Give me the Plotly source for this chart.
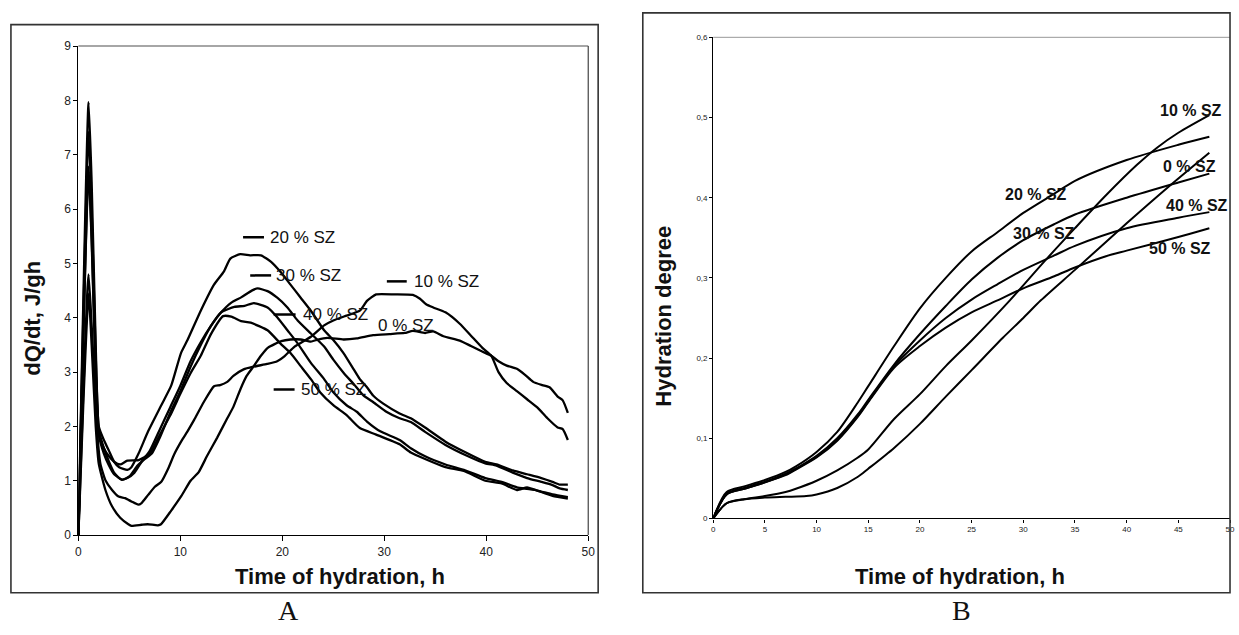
import plotly.graph_objects as go

W, H = 1239, 635

# ---------------- Panel A : heat flow dQ/dt (J/gh) vs time (h) ----------------
a_x_0 = [0, 0.5, 1.0, 1.3, 1.7, 2, 2.65, 3.3, 4.1, 4.9, 5.2, 6.2, 6.8, 7.8, 8.1, 9.1, 10.1, 11, 11.8, 12.6,
         13.6, 14.6, 15.2, 15.9, 16.5, 17.2, 17.9, 18.6, 19.9, 20.8, 21.8, 22.8, 23.5, 24.4, 26, 27.3, 28.9,
         30.5, 32, 32.8, 34, 34.8, 35.8, 37.4, 38.5, 39.6, 40.5, 41.2, 42, 43, 43.8, 44.6, 45.5, 46.2, 47, 47.5, 48]
a_y_0 = [0, 2.5, 4.45, 3.5, 2.0, 1.31, 0.83, 0.53, 0.32, 0.2, 0.17, 0.19, 0.2, 0.18, 0.2, 0.45, 0.72, 1.0, 1.16, 1.45,
         1.79, 2.15, 2.36, 2.69, 2.93, 3.11, 3.3, 3.45, 3.57, 3.6, 3.6, 3.56, 3.6, 3.63, 3.6, 3.62, 3.68,
         3.7, 3.72, 3.76, 3.72, 3.75, 3.66, 3.58, 3.48, 3.38, 3.3, 3.2, 3.12, 3.06, 2.95, 2.82, 2.76, 2.72, 2.55, 2.48, 2.25]

a_x_10 = [0, 1.0, 1.4, 1.84, 2.16, 2.65, 3.3, 3.94, 4.58, 5.2, 5.87, 6.2, 6.84, 7.5, 8.13, 8.8, 9.4, 10.1, 10.7,
          11.35, 12.3, 13.3, 13.9, 14.6, 15.2, 16.2, 17.2, 18.5, 19.5, 20.2, 21.2, 22.8, 24.1, 25, 26.3, 27.6,
          28.3, 29.2, 31, 32.8, 33.5, 34.1, 34.8, 36, 37.4, 38.5, 39.6, 40.5, 41.2, 42, 43, 44, 45, 46, 47, 47.5, 48]
a_y_10 = [0, 4.8, 3.5, 1.91, 1.31, 1.01, 0.83, 0.71, 0.68, 0.62, 0.56, 0.59, 0.74, 0.89, 0.98, 1.22, 1.49, 1.73, 1.91,
          2.12, 2.45, 2.74, 2.76, 2.82, 2.93, 3.05, 3.1, 3.15, 3.2, 3.29, 3.47, 3.65, 3.86, 3.95, 4.04, 4.13,
          4.31, 4.43, 4.43, 4.42, 4.35, 4.25, 4.19, 4.1, 3.89, 3.67, 3.45, 3.3, 3.0, 2.8, 2.65, 2.5, 2.35, 2.15, 1.98, 1.95, 1.75]

a_x_20 = [0, 1.0, 1.3, 1.7, 2, 2.5, 3, 3.5, 4, 4.8, 5.2, 5.9, 6.84, 8.13, 9.1, 10.06, 10.7, 12, 13.3, 14.26, 14.9,
          15.87, 16.84, 17.9, 18.9, 19.8, 20.8, 21.8, 22.8, 24.1, 25, 26, 27, 27.6, 28.3, 28.9, 29.9, 31.5, 32.6,
          34, 36, 38, 39.9, 41, 42.6, 44, 45.4, 46.5, 47.2, 48]
a_y_20 = [0, 7.97, 6.5, 3.5, 2.0, 1.75, 1.55, 1.35, 1.25, 1.2, 1.25, 1.5, 1.91, 2.39, 2.75, 3.35, 3.59, 4.13, 4.61, 4.85, 5.09,
          5.17, 5.15, 5.15, 5.03, 4.85, 4.61, 4.37, 4.13, 3.77, 3.59, 3.35, 3.05, 2.87, 2.72, 2.57, 2.42, 2.24, 2.15,
          1.98, 1.72, 1.52, 1.35, 1.3, 1.19, 1.12, 1.05, 0.98, 0.93, 0.93]

a_x_30 = [0, 1.0, 1.3, 1.7, 2, 2.5, 3, 3.5, 4.2, 4.8, 5.5, 6.2, 7, 8, 9, 10, 11, 12, 13, 14, 15, 16, 17, 17.58,
          18.55, 19.5, 20.5, 21.5, 22.8, 24.1, 25, 26, 27, 27.95, 28.9, 30.2, 31.5, 32.6, 34, 36, 38, 39.9, 41,
          42.6, 44, 45.4, 46.5, 47.2, 48]
a_y_30 = [0, 7.42, 6.0, 3.3, 1.95, 1.6, 1.35, 1.15, 1.02, 1.05, 1.15, 1.35, 1.55, 1.95, 2.35, 2.75, 3.2, 3.55, 3.85, 4.1, 4.28, 4.38, 4.5, 4.54,
          4.49, 4.37, 4.19, 3.95, 3.71, 3.47, 3.23, 2.99, 2.78, 2.57, 2.45, 2.27, 2.15, 2.08, 1.9, 1.66, 1.47, 1.32, 1.28,
          1.15, 1.05, 0.98, 0.92, 0.86, 0.83]

a_x_40 = [0, 1.0, 1.3, 1.7, 2, 2.5, 3, 3.5, 4.3, 5, 5.8, 6.5, 7.2, 8, 9, 10, 11, 12, 13, 14, 15.3, 16.3, 17.2, 18.55,
          19.5, 20.5, 21.5, 22.8, 24.1, 25, 26.3, 27.3, 28.3, 29.6, 31.5, 32.6, 34, 36, 37.8, 39.9, 41.5, 43, 44,
          45, 46.5, 48]
a_y_40 = [0, 6.78, 5.5, 3.0, 1.85, 1.5, 1.28, 1.12, 1.02, 1.08, 1.28, 1.4, 1.5, 1.8, 2.25, 2.65, 3.1, 3.5, 3.85, 4.1, 4.2, 4.22, 4.27, 4.19,
          4.01, 3.77, 3.53, 3.17, 2.87, 2.63, 2.39, 2.27, 2.09, 1.91, 1.75, 1.6, 1.45, 1.3, 1.2, 1.05, 0.98, 0.88, 0.85,
          0.82, 0.75, 0.7]

a_x_50 = [0, 1.0, 1.3, 1.7, 2, 2.5, 3, 3.5, 4.1, 4.8, 5.9, 7, 8, 9, 10, 11, 12, 13, 14.2, 15, 15.95, 16.9, 18.55,
          19.8, 20.8, 21.8, 22.8, 23.7, 25, 26.3, 27.6, 29.2, 31.5, 32.6, 34, 36, 37.8, 39.9, 41.5, 43, 44, 45, 46.5, 48]
a_y_50 = [0, 6.7, 5.4, 3.0, 1.85, 1.6, 1.45, 1.35, 1.3, 1.37, 1.38, 1.5, 1.85, 2.2, 2.6, 2.98, 3.3, 3.7, 4.03, 4.02, 3.94, 3.91, 3.77,
          3.53, 3.35, 3.11, 2.87, 2.63, 2.39, 2.21, 1.97, 1.85, 1.67, 1.52, 1.4, 1.25, 1.18, 1.0, 0.95, 0.83, 0.88, 0.82, 0.72, 0.67]

# ---------------- Panel B : hydration degree vs time (h) ----------------
b_x_0 = [0, 1.3, 3, 5, 7, 9, 10, 12, 14, 15, 17.5, 20, 22.5, 25, 28, 30, 31.7, 35, 40, 44, 48]
b_y_0 = [0, 0.019, 0.024, 0.026, 0.027, 0.028, 0.030, 0.038, 0.052, 0.062, 0.088, 0.118, 0.152, 0.185, 0.225, 0.25, 0.272,
         0.31, 0.368, 0.413, 0.456]
b_x_10 = [0, 1.3, 3, 5, 7, 8, 10, 12, 14, 15, 17.5, 20, 22.5, 25, 28.7, 32, 35, 38, 41, 43, 45, 48]
b_y_10 = [0, 0.019, 0.024, 0.028, 0.033, 0.037, 0.047, 0.060, 0.076, 0.086, 0.124, 0.155, 0.19, 0.222, 0.272, 0.32, 0.362,
          0.403, 0.441, 0.463, 0.481, 0.503]
b_x_20 = [0, 1.3, 3, 5, 7, 8, 10, 12, 14, 15, 17.5, 20, 22.5, 25, 27.5, 30, 33, 35, 40, 45, 48]
b_y_20 = [0, 0.033, 0.040, 0.048, 0.058, 0.065, 0.083, 0.108, 0.145, 0.165, 0.215, 0.262, 0.300, 0.333, 0.357, 0.381,
          0.405, 0.421, 0.447, 0.466, 0.476]
b_x_30 = [0, 1.3, 3, 5, 7, 8, 10, 12, 14, 15, 17.5, 20, 22.5, 25, 27.5, 30, 33, 35, 40, 45, 48]
b_y_30 = [0, 0.030, 0.037, 0.045, 0.055, 0.062, 0.078, 0.100, 0.130, 0.148, 0.192, 0.230, 0.265, 0.298, 0.325, 0.347,
          0.367, 0.379, 0.400, 0.419, 0.430]
b_x_40 = [0, 1.3, 3, 5, 7, 8, 10, 12, 14, 15, 17.5, 20, 22.5, 25, 27.5, 30, 33, 35, 40, 45, 48]
b_y_40 = [0, 0.031, 0.038, 0.046, 0.056, 0.062, 0.077, 0.098, 0.128, 0.146, 0.19, 0.222, 0.250, 0.273, 0.292, 0.31,
          0.328, 0.340, 0.362, 0.375, 0.382]
b_x_50 = [0, 1.3, 3, 5, 7, 8, 10, 12, 14, 15, 17.5, 20, 22.5, 25, 27.5, 30, 33, 35, 38, 40, 45, 48]
b_y_50 = [0, 0.030, 0.037, 0.045, 0.054, 0.061, 0.076, 0.097, 0.127, 0.145, 0.188, 0.215, 0.238, 0.257, 0.272, 0.287,
          0.302, 0.313, 0.327, 0.334, 0.351, 0.362]

# ticks / labels
a_xticks = [0, 10, 20, 30, 40, 50]
a_yticks = [0, 1, 2, 3, 4, 5, 6, 7, 8, 9]
b_xticks = [0, 5, 10, 15, 20, 25, 30, 35, 40, 45, 50]
b_yticks = [0, 0.1, 0.2, 0.3, 0.4, 0.5, 0.6]
b_yticktext = ["0", "0,1", "0,2", "0,3", "0,4", "0,5", "0,6"]

a_label_text = ["20 % SZ", "30 % SZ", "10 % SZ", "40 % SZ", "0 % SZ", "50 % SZ"]
a_label_x = [18.6, 19.2, 32.7, 21.8, 29.2, 21.6]
a_label_y = [5.48, 4.78, 4.67, 4.06, 3.86, 2.68]
a_dash_x0 = [16.15, 16.85, 30.25, 19.15, None, 19.15]
a_dash_x1 = [18.2, 18.9, 32.2, 21.3, None, 21.2]

b_label_text = ["10 % SZ", "0 % SZ", "20 % SZ", "40 % SZ", "30 % SZ", "50 % SZ"]
b_label_x = [43.0, 43.3, 28.0, 43.6, 28.8, 42.0]
b_label_y = [0.509, 0.439, 0.404, 0.390, 0.355, 0.337]

FONT = "Liberation Sans, Arial, sans-serif"

fig = go.Figure()

line_a = dict(color="black", width=2.3, shape="spline", smoothing=0.5)
for xs, ys in [(a_x_0, a_y_0), (a_x_10, a_y_10), (a_x_20, a_y_20),
               (a_x_30, a_y_30), (a_x_40, a_y_40), (a_x_50, a_y_50)]:
    fig.add_trace(go.Scatter(x=xs, y=ys, mode="lines", line=line_a, xaxis="x", yaxis="y",
                             showlegend=False, hoverinfo="skip"))

line_b = dict(color="black", width=2.0, shape="spline", smoothing=0.8)
for xs, ys in [(b_x_0, b_y_0), (b_x_10, b_y_10), (b_x_20, b_y_20),
               (b_x_30, b_y_30), (b_x_40, b_y_40), (b_x_50, b_y_50)]:
    fig.add_trace(go.Scatter(x=xs, y=ys, mode="lines", line=line_b, xaxis="x2", yaxis="y2",
                             showlegend=False, hoverinfo="skip"))


def px_x(px):
    return px / W


def px_y(py):
    return 1 - py / H


axis_common = dict(showgrid=False, zeroline=False, showline=True, linecolor="black", linewidth=1.2,
                   ticks="outside", tickcolor="black", mirror=False)

fig.update_layout(
    width=W, height=H, margin=dict(l=0, r=0, t=0, b=0),
    paper_bgcolor="white", plot_bgcolor="white",
    font=dict(family=FONT, color="#111"),
    xaxis=dict(domain=[px_x(76), px_x(590)], range=[0, 50], tickvals=a_xticks, anchor="y",
               ticklen=5, tickwidth=1.2, tickfont=dict(size=12, color="#222"), **axis_common),
    yaxis=dict(domain=[px_y(540), px_y(40)], range=[0, 9], tickvals=a_yticks, anchor="x",
               ticklen=4, tickwidth=1.2, tickfont=dict(size=12, color="#222"), **axis_common),
    xaxis2=dict(domain=[px_x(716), px_x(1237)], range=[0, 50], tickvals=b_xticks, anchor="y2",
                ticklen=3, tickwidth=1, tickfont=dict(size=8, color="#222"), **axis_common),
    yaxis2=dict(domain=[px_y(523), px_y(31)], range=[0, 0.6], tickvals=b_yticks, ticktext=b_yticktext,
                anchor="x2", ticklen=3, tickwidth=1, tickfont=dict(size=8, color="#222"), **axis_common),
)

shapes = []
# plot-area top/right borders (grey)
shapes.append(dict(type="line", xref="x domain", yref="y domain", x0=0, x1=1, y0=1, y1=1,
                   line=dict(color="#888", width=1.5)))
shapes.append(dict(type="line", xref="x domain", yref="y domain", x0=1, x1=1, y0=0, y1=1,
                   line=dict(color="#444", width=1.2)))
shapes.append(dict(type="line", xref="x2 domain", yref="y2 domain", x0=0, x1=1, y0=1, y1=1,
                   line=dict(color="#999", width=1)))
# outer chart boxes
shapes.append(dict(type="rect", xref="paper", yref="paper", x0=px_x(8), x1=px_x(600),
                   y0=px_y(599), y1=px_y(18), line=dict(color="#333", width=1.6)))
shapes.append(dict(type="rect", xref="paper", yref="paper", x0=px_x(645), x1=px_x(1237),
                   y0=px_y(599), y1=px_y(6), line=dict(color="#333", width=1.6)))
# short dashes in front of panel A labels
for x0, x1, y in zip(a_dash_x0, a_dash_x1, a_label_y):
    if x0 is None:
        continue
    shapes.append(dict(type="line", xref="x", yref="y", x0=x0, x1=x1, y0=y, y1=y,
                       line=dict(color="black", width=2.5)))
fig.update_layout(shapes=shapes)

ann = []
for t, x, y in zip(a_label_text, a_label_x, a_label_y):
    ann.append(dict(text=t, x=x, y=y, xref="x", yref="y", xanchor="left", yanchor="middle",
                    showarrow=False, font=dict(size=17, family=FONT, color="#111")))
for t, x, y in zip(b_label_text, b_label_x, b_label_y):
    ann.append(dict(text="<b>" + t + "</b>", x=x, y=y, xref="x2", yref="y2", xanchor="left",
                    yanchor="middle", showarrow=False, font=dict(size=16, family=FONT, color="#111")))

title_font = dict(size=22, family=FONT, color="#111")
serif = dict(size=28, family="Liberation Serif, Times New Roman, serif", color="#111")
ann += [
    dict(text="<b>Time of hydration, h</b>", x=px_x(340), y=px_y(582), xref="paper", yref="paper",
         xanchor="center", yanchor="middle", showarrow=False, font=title_font),
    dict(text="<b>Time of hydration, h</b>", x=px_x(965), y=px_y(582), xref="paper", yref="paper",
         xanchor="center", yanchor="middle", showarrow=False, font=title_font),
    dict(text="<b>dQ/dt, J/gh</b>", x=px_x(30), y=px_y(318), xref="paper", yref="paper",
         xanchor="center", yanchor="middle", textangle=-90, showarrow=False, font=title_font),
    dict(text="<b>Hydration degree</b>", x=px_x(665), y=px_y(316), xref="paper", yref="paper",
         xanchor="center", yanchor="middle", textangle=-90, showarrow=False, font=title_font),
    dict(text="A", x=px_x(288), y=0, xref="paper", yref="paper", xanchor="center",
         yanchor="bottom", showarrow=False, font=serif),
    dict(text="B", x=px_x(966), y=0, xref="paper", yref="paper", xanchor="center",
         yanchor="bottom", showarrow=False, font=serif),
]
fig.update_layout(annotations=ann)

fig.write_html("out.html",
               config={"displayModeBar": False},
               post_script="document.body.style.margin='0px';document.body.style.overflow='hidden';")
